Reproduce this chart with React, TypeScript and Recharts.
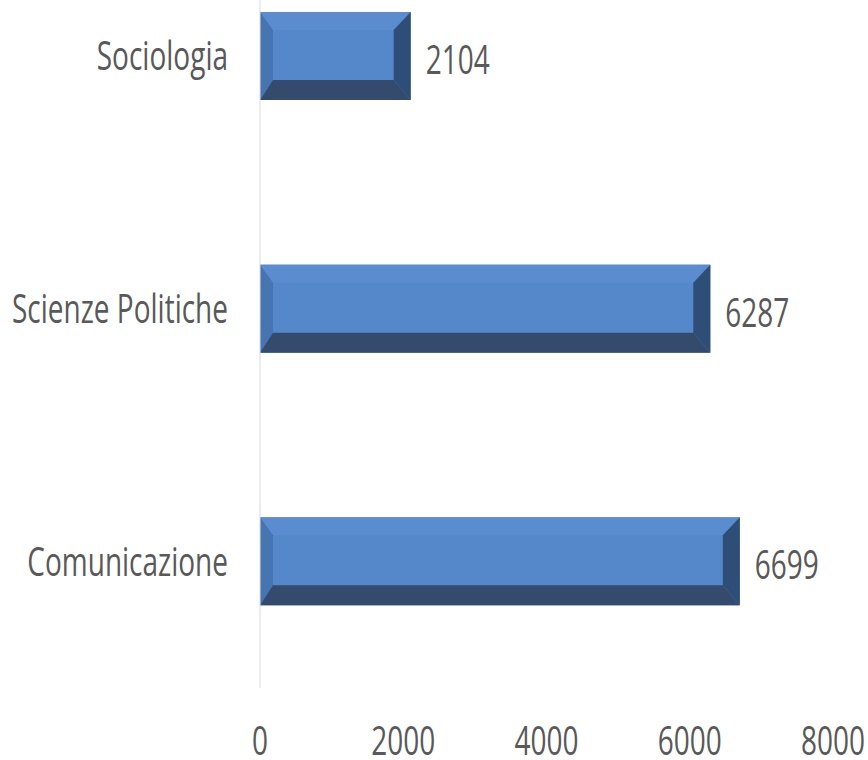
import { BarChart, Bar, XAxis, YAxis, LabelList } from "recharts";

const faculties = ["Sociologia", "Scienze Politiche", "Comunicazione"];
const students = [2104, 6287, 6699];
const xTicks = [0, 2000, 4000, 6000, 8000];

const data = faculties.map((name, i) => ({ name, value: students[i] }));

const FONT = "'Open Sans', sans-serif";
const TEXT = "#595959";
const SX = 0.7;

const ScaledText = ({ x, y, anchor, size, children }: any) => (
  <text
    transform={`translate(${x},${y}) scale(${SX},1)`}
    textAnchor={anchor}
    fontFamily={FONT}
    fontSize={size}
    fill={TEXT}
  >
    {children}
  </text>
);

const CategoryTick = ({ x, y, payload }: any) => (
  <ScaledText x={x} y={y + 14} anchor="end" size={40}>
    {payload.value}
  </ScaledText>
);

const NumberTick = ({ x, y, payload }: any) => (
  <ScaledText x={x} y={y + 67} anchor="middle" size={40}>
    {payload.value}
  </ScaledText>
);

const ValueLabel = ({ x, y, width, height, value }: any) => (
  <ScaledText x={x + width + 15} y={y + height / 2 + 18} anchor="start" size={40}>
    {value}
  </ScaledText>
);

// bar with bevelled edges, like the office "bevel" style
const BevelBar = ({ x, y, width, height }: any) => {
  const l = 13;
  const r = 17;
  const t = 18;
  const b = 20;
  const x2 = x + width;
  const y2 = y + height;
  return (
    <g>
      <rect x={x} y={y} width={width} height={height} fill="#5587cb" />
      <polygon
        points={`${x},${y} ${x2},${y} ${x2 - r},${y + t} ${x + l},${y + t}`}
        fill="#5a8ccf"
      />
      <polygon
        points={`${x},${y} ${x + l},${y + t} ${x + l},${y2 - b} ${x},${y2}`}
        fill="#4675b1"
      />
      <polygon
        points={`${x2},${y} ${x2 - r},${y + t} ${x2 - r},${y2 - b} ${x2},${y2}`}
        fill="#2e4e78"
      />
      <polygon
        points={`${x},${y2} ${x + l},${y2 - b} ${x2 - r},${y2 - b} ${x2},${y2}`}
        fill="#344b6d"
      />
    </g>
  );
};

export default function App() {
  return (
    <div
      style={{
        position: "fixed",
        left: 0,
        top: -70,
        width: 868,
        height: 840,
        background: "#fff",
      }}
    >
      <BarChart
        width={868}
        height={840}
        data={data}
        layout="vertical"
        margin={{ top: 0, right: 35, left: 0, bottom: 0 }}
      >
        <XAxis
          type="number"
          domain={[0, 8000]}
          ticks={xTicks}
          axisLine={false}
          tickLine={false}
          tickSize={0}
          tickMargin={0}
          height={82}
          tick={<NumberTick />}
          interval={0}
        />
        <YAxis
          type="category"
          dataKey="name"
          width={260}
          axisLine={{ stroke: "#d9d9d9" }}
          tickLine={false}
          tickSize={0}
          tickMargin={32}
          tick={<CategoryTick />}
        />
        <Bar
          dataKey="value"
          barSize={88}
          shape={<BevelBar />}
          isAnimationActive={false}
        >
          <LabelList dataKey="value" content={<ValueLabel />} />
        </Bar>
      </BarChart>
    </div>
  );
}
